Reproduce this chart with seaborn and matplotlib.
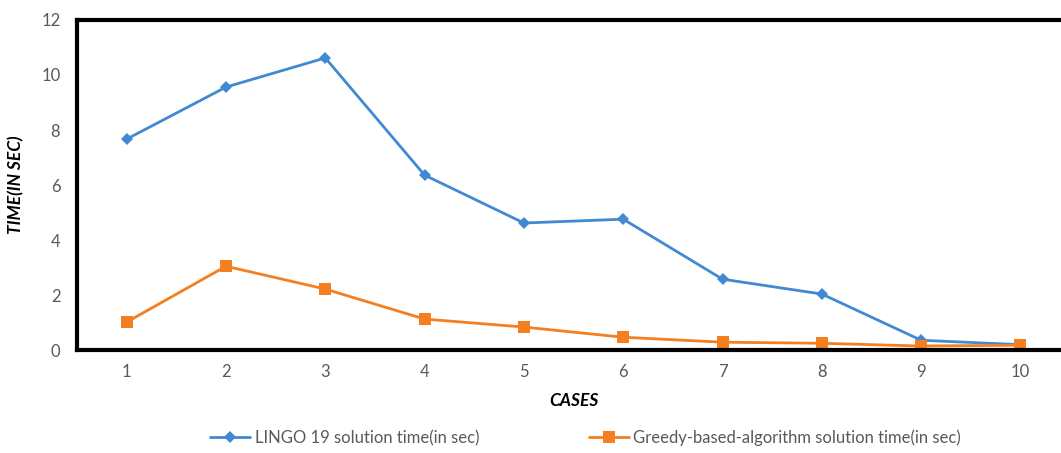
import matplotlib
matplotlib.use("Agg")
import matplotlib.pyplot as plt
import seaborn as sns
import pandas as pd

cases = [1, 2, 3, 4, 5, 6, 7, 8, 9, 10]
lingo_time = [7.67, 9.56, 10.62, 6.36, 4.62, 4.76, 2.58, 2.04, 0.36, 0.20]
greedy_time = [1.02, 3.05, 2.22, 1.13, 0.84, 0.47, 0.29, 0.25, 0.15, 0.18]
series_names = ["LINGO 19 solution time(in sec)",
                "Greedy-based-algorithm solution time(in sec)"]
y_ticks = [0, 2, 4, 6, 8, 10, 12]

df = pd.DataFrame({
    "case": cases * 2,
    "time": lingo_time + greedy_time,
    "series": [series_names[0]] * len(cases) + [series_names[1]] * len(cases),
})

sns.set_theme(style="white")
plt.rcParams["font.family"] = ["Lato", "DejaVu Sans"]

fig = plt.figure(figsize=(10.61, 4.53), dpi=100)
ax = fig.add_axes([0.0726, 0.227, 0.936, 0.729])

palette = {series_names[0]: "#418AD3", series_names[1]: "#F47F20"}
sns.lineplot(data=df, x="case", y="time", hue="series", style="series",
             markers={series_names[0]: "D", series_names[1]: "s"},
             dashes=False, palette=palette, linewidth=2.0,
             markersize=7, markeredgewidth=0, ax=ax)
# larger square markers for the greedy series
for line in ax.get_lines():
    if line.get_marker() == "s":
        line.set_markersize(8.5)
    elif line.get_marker() == "D":
        line.set_markersize(6.5)

ax.set_xlim(0.5, 10.5)
ax.set_ylim(0, 12)
ax.set_xticks(cases)
ax.set_yticks(y_ticks)
ax.tick_params(axis="both", length=0, labelsize=12, labelcolor="#595959")
ax.tick_params(axis="y", pad=12)
ax.tick_params(axis="x", pad=10)

for side in ["left", "bottom", "top", "right"]:
    ax.spines[side].set_color("black")
    ax.spines[side].set_linewidth(3)
    ax.spines[side].set_visible(True)

ax.set_xlabel("CASES", fontsize=12.5, fontweight="bold", fontstyle="italic",
              color="black", labelpad=9)
ax.set_ylabel("TIME(IN SEC)", fontsize=12.5, fontweight="bold", fontstyle="italic",
              color="black", labelpad=12)

handles, labels = ax.get_legend_handles_labels()
ax.legend(handles, labels, loc="center", bbox_to_anchor=(0.552, 0.033),
          bbox_transform=fig.transFigure, ncol=2, frameon=False,
          fontsize=12, labelcolor="#595959", handlelength=2.4,
          handletextpad=0.25, columnspacing=6.6)

fig.savefig("out.png", dpi=100)
